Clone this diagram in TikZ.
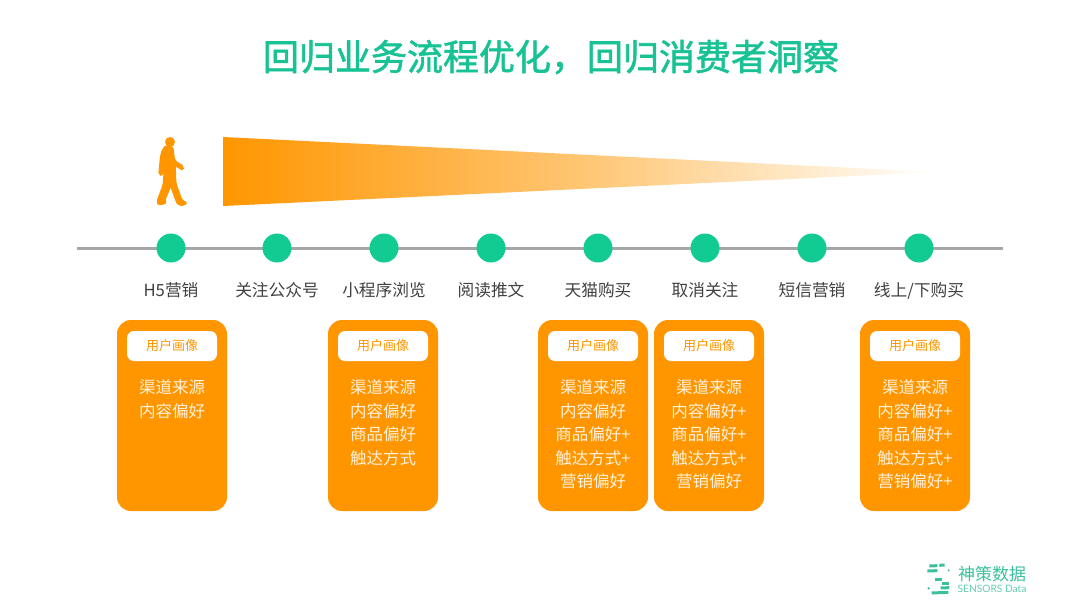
\documentclass[tikz,border=0pt]{standalone}
\usepackage{fontspec}
\setmainfont{Noto Sans CJK SC}
\newfontfamily\titlefont[FakeBold=1.6]{Noto Sans CJK SC}
\newfontfamily\logofont{Lato}
\definecolor{mGreen}{HTML}{18C294}
\definecolor{mOrange}{HTML}{FF9600}
\definecolor{mDot}{HTML}{12CB93}
\definecolor{mLine}{HTML}{A6A6A6}
\definecolor{mLogo}{HTML}{3CBF9C}
\definecolor{mPale}{HTML}{FFF1DC}
\tikzset{
	stop/.style={circle, fill=mDot, inner sep=0pt, minimum size=29pt},
	stoplabel/.style={text=black!75, font=\fontsize{16.7}{20}\selectfont, inner sep=0pt},
	card/.style={rounded corners=14pt, fill=mOrange, minimum width=110pt, minimum height=191pt, inner sep=0pt},
	cardhead/.style={rounded corners=7pt, fill=white, text=mOrange, minimum width=90pt, minimum height=30pt, inner sep=0pt, font=\fontsize{13}{16}\selectfont},
	cardtext/.style={text=mPale, inner sep=0pt, font=\fontsize{16.5}{20}\selectfont},
	logobar/.style={mLogo, line width=3pt}
}
\begin{document}
\begin{tikzpicture}[x=1pt,y=-1pt]
		\useasboundingbox (0,0) rectangle (1080,608);
		\node[text=mGreen, inner sep=0pt, font=\titlefont\fontsize{36}{40}\selectfont] (title) at (551,57) {回归业务流程优化，回归消费者洞察};
		% the walker
		\begin{scope}[shift={(130,120)},x=.3333pt,y=-.3333pt]
			\fill[mOrange] (120,66) circle (15);
			\filldraw[mOrange, line width=1.5pt, line join=round, rounded corners=2pt] (110,76) -- (128,80) -- (133,122) -- (161,140) -- (158,150) -- (135,136) -- (137,190) -- (156,243) -- (171,248) -- (163,256) -- (143,254) -- (122,197) -- (104,240) -- (108,250) -- (84,254) -- (82,243) -- (100,195) -- (103,156) -- (98,150) -- (97,166) -- (87,164) -- (92,110) -- (98,88) -- cycle;
		\end{scope}
		\shade[left color=mOrange, right color=white, middle color=mOrange!55!white] (223,137) -- (937,172) -- (223,206) -- cycle;
		% time line
		\coordinate (lineL) at (77,248);
		\coordinate (lineR) at (1003,248);
		\draw[mLine, line width=3pt] (lineL) -- (lineR);
		\foreach \x /\alph/\name in {
			171/s1/{H5营销},
			277/s2/{关注公众号},
			384/s3/{小程序浏览},
			491/s4/{阅读推文},
			598/s5/{天猫购买},
			705/s6/{取消关注},
			812/s7/{短信营销},
			919/s8/{线上/下购买}}{
			\node[stop] (\alph) at (\x,248) {};
			\node[stoplabel] (\alph l) at (\x,290.5) {\name};
		 }
		% user profile cards
		\foreach \x /\alph/\name in {
			172/c1/{渠道来源,内容偏好},
			383/c2/{渠道来源,内容偏好,商品偏好,触达方式},
			593/c3/{渠道来源,内容偏好,商品偏好+,触达方式+,营销偏好},
			709/c4/{渠道来源,内容偏好+,商品偏好+,触达方式+,营销偏好},
			915/c5/{渠道来源,内容偏好+,商品偏好+,触达方式+,营销偏好+}}{
			\node[card] (\alph) at (\x,415.5) {};
			\node[cardhead] (\alph h) at (\x,346) {用户画像};
			\foreach \item [count=\i] in \name {
				\node[cardtext] (\alph t\i) at (\x,363.5+23.6*\i) {\item};
			}
		 }
		% logo
		\begin{scope}[shift={(900,550)},x=.3333pt,y=-.3333pt]
			\draw[logobar] (88,48) -- (112,47) (118,46) -- (134,45);
			\draw[logobar] (82,63) -- (112,62);
			\draw[logobar] (105,87) -- (125,87);
			\draw[logobar] (125,100) -- (148,100);
			\draw[logobar] (122,114) -- (148,113);
			\draw[logobar] (95,129) -- (145,127);
			\fill[mLogo] (146,61) circle (3.5) (86,115) circle (4);
		\end{scope}
		\node[text=mLogo, inner sep=0pt, font=\fontsize{17}{20}\selectfont] (logoname) at (992,574) {神策数据};
		\node[text=mLogo!80!white, inner sep=0pt, font=\logofont\fontsize{10.2}{12}\selectfont] (logosub) at (992,589) {SENSORS Data};
\end{tikzpicture}
\end{document}
